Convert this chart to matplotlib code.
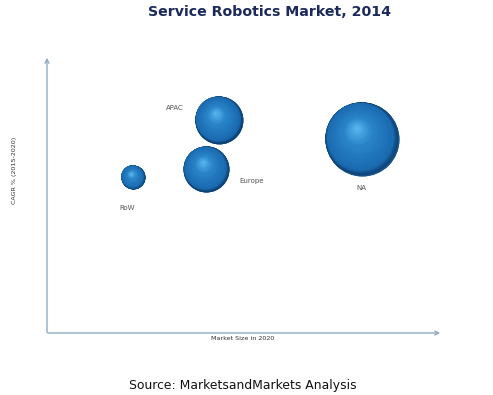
import matplotlib
matplotlib.use("Agg")
import matplotlib.pyplot as plt
import numpy as np
from matplotlib.transforms import offset_copy
from matplotlib.colors import LinearSegmentedColormap

# ---- data ----
regions = ["RoW", "Europe", "APAC", "NA"]
market_size_2020 = [21.7, 40.2, 43.4, 79.5]   # x (relative units)
cagr = [56.1, 59.0, 76.6, 69.8]               # y (relative units)
bubble_size = [300, 1100, 1190, 2840]         # bubble area (market 2014, relative)

title = "Service Robotics Market, 2014"
xlabel = "Market Size in 2020"
ylabel = "CAGR % (2015-2020)"
source = "Source: MarketsandMarkets Analysis"

label_offsets = {"RoW": (-4, -22), "Europe": (33, -9), "APAC": (-32, 9), "NA": (0, -35)}

fig = plt.figure(figsize=(4.93, 3.95), dpi=100)
fig.patch.set_facecolor("white")
ax = fig.add_axes([47/493, 1-333/395, (443-47)/493, (333-55)/395])
ax.set_xlim(0, 100)
ax.set_ylim(0, 100)
ax.axis("off")

# axis arrows
axis_col = "#8fa9c2"
ax.annotate("", xy=(0, 1), xytext=(0, -0.008), xycoords="axes fraction",
            arrowprops=dict(arrowstyle="->", color=axis_col, lw=1.0, mutation_scale=7))
ax.annotate("", xy=(1, 0), xytext=(-0.005, 0), xycoords="axes fraction",
            arrowprops=dict(arrowstyle="->", color=axis_col, lw=1.0, mutation_scale=7))

# sphere shading
cmap = LinearSegmentedColormap.from_list(
    "sph", [(0.0, "#1d5f9a"), (0.08, "#0e4073"), (0.3, "#1a6bb0"),
            (0.7, "#2a84c9"), (1.0, "#5ab9f0")])
t_key = [0.0, 0.3, 1.0]
rho_key = [1.0, 0.9, 0.0]
cx_key = [0.0, -0.06, -0.15]
cy_key = [0.0, 0.07, 0.31]
N = 70
for x, y, s in zip(market_size_2020, cagr, bubble_size):
    r = np.sqrt(s) / 2.0
    for k in range(N):
        t = k / N
        rk = r * np.interp(t, t_key, rho_key)
        ox = r * np.interp(t, t_key, cx_key)
        oy = r * np.interp(t, t_key, cy_key)
        tr = offset_copy(ax.transData, fig=fig, x=ox, y=oy, units="points")
        ax.scatter([x], [y], s=(2 * rk) ** 2, color=cmap(t), linewidths=0,
                   transform=tr, zorder=3 + k * 0.01)

for name, x, y in zip(regions, market_size_2020, cagr):
    dx, dy = label_offsets[name]
    ax.annotate(name, (x, y), xytext=(dx, dy), textcoords="offset points",
                ha="center", va="center", fontsize=5, color="#555555")

fig.text(270/493, 1-12/395, title, ha="center", va="center", fontsize=10.2,
         fontweight="bold", color="#1b2a5a")
fig.text(15/493, 1-170/395, ylabel, rotation=90, ha="center", va="center",
         fontsize=4.6, color="#333333")
fig.text(243/493, 1-338/395, xlabel, ha="center", va="center",
         fontsize=4.6, color="#333333")
fig.text(242.5/493, 1-385/395, source, ha="center", va="center",
         fontsize=8.9, color="#111111")

fig.savefig("out.png", dpi=100)
